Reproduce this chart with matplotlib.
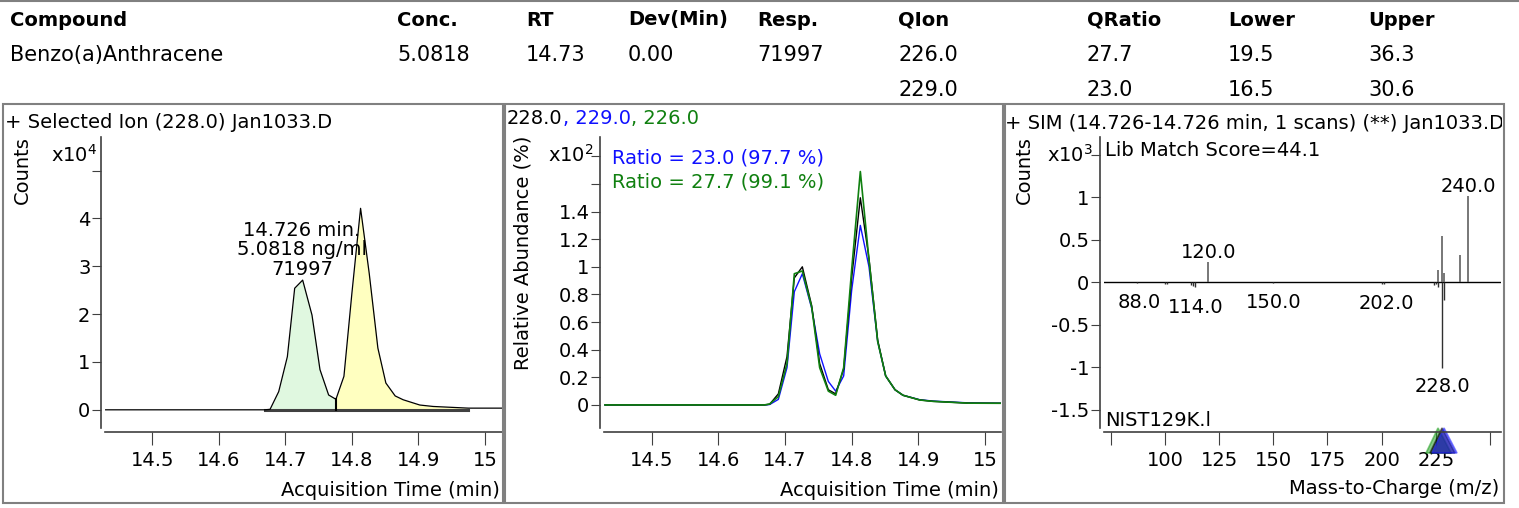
import matplotlib
matplotlib.use("Agg")
import matplotlib.pyplot as plt
from matplotlib.patches import Rectangle
from matplotlib.ticker import FixedLocator, FixedFormatter

plt.rcParams['font.family'] = ['DejaVu Sans']

W, H = 1519, 508

# 表格数据
headers = ["Compound", "Conc.", "RT", "Dev(Min)", "Resp.", "QIon", "QRatio", "Lower", "Upper"]
row1 = ["Benzo(a)Anthracene", "5.0818", "14.73", "0.00", "71997", "226.0", "27.7", "19.5", "36.3"]
row2 = ["", "", "", "", "", "229.0", "23.0", "16.5", "30.6"]

# 色谱数据 (时间, min)
rt = [14.43, 14.669, 14.677, 14.690, 14.703, 14.714, 14.726, 14.740, 14.752, 14.765, 14.776,
      14.788, 14.800, 14.813, 14.826, 14.839, 14.851, 14.865, 14.877, 14.902, 14.922, 14.975, 15.025]
# 228.0 离子强度 (x10^4)
counts_228 = [0.0, 0.0, 0.01, 0.38, 1.11, 2.54, 2.71, 1.98, 0.84, 0.31, 0.22,
              0.70, 2.44, 4.21, 2.85, 1.29, 0.56, 0.29, 0.21, 0.10, 0.07, 0.035, 0.035]
# 相对丰度 (x10^2 %)
rel_228 = [0, 0, 0.005, 0.08, 0.35, 0.92, 1.00, 0.72, 0.30, 0.11, 0.08,
           0.26, 0.92, 1.50, 1.06, 0.47, 0.21, 0.11, 0.07, 0.036, 0.026, 0.013, 0.012]
rel_229 = [0, 0, 0.003, 0.04, 0.27, 0.82, 0.95, 0.70, 0.37, 0.17, 0.10,
           0.21, 0.83, 1.30, 1.00, 0.46, 0.21, 0.11, 0.07, 0.038, 0.028, 0.015, 0.012]
rel_226 = [0, 0, 0.007, 0.06, 0.30, 0.95, 0.97, 0.71, 0.27, 0.10, 0.07,
           0.27, 0.98, 1.69, 1.05, 0.46, 0.21, 0.11, 0.07, 0.036, 0.026, 0.013, 0.012]

# 积分区间
peak1_start, split_time, peak2_end = 14.669, 14.776, 14.975

# 质谱数据 (x10^3)
spec_mz = [120, 226, 228, 229, 236, 240]
spec_int = [0.24, 0.14, 0.54, 0.11, 0.32, 1.01]
lib_mz = [87, 100, 101, 112, 113, 114, 150, 200, 201, 224, 225, 226, 228, 229]
lib_int = [-0.01, -0.02, -0.015, -0.03, -0.04, -0.05, -0.01, -0.015, -0.02,
           -0.03, -0.02, -0.05, -1.01, -0.21]
up_labels = [(120, 0.24, "120.0"), (240, 1.01, "240.0")]
down_labels = [(88, -0.13, "88.0"), (114, -0.185, "114.0"), (150, -0.13, "150.0"),
               (202, -0.14, "202.0"), (228, -1.11, "228.0")]
qion_mz = [226, 228, 229]
qion_colors = ["#22a022", "#000000", "#2222ff"]

FS = 14


def fx(x):
    return x / W


def fy(y):
    return 1 - y / H


fig = plt.figure(figsize=(W / 100, H / 100), dpi=100)

# ---- 表格 ----
col_x = [10, 397, 526, 628, 757, 898, 1087, 1228, 1368]
for x, h, a, b in zip(col_x, headers, row1, row2):
    fig.text(fx(x), fy(20), h, fontsize=14, fontweight='bold', va='center', ha='left')
    fig.text(fx(x), fy(55), a, fontsize=15, va='center', ha='left')
    fig.text(fx(x), fy(90), b, fontsize=15, va='center', ha='left')
fig.add_artist(plt.Line2D([0, 1], [fy(1), fy(1)], color='#808080', lw=1.5))

# ---- 面板边框 ----
for x0, x1 in [(3, 503), (505, 1003), (1005, 1504)]:
    fig.add_artist(Rectangle((fx(x0), fy(503)), fx(x1 - x0), (503 - 104) / H,
                             fill=False, edgecolor='#808080', lw=1.5, transform=fig.transFigure))


def make_axes(x0):
    ax = fig.add_axes([fx(x0), fy(428), fx(397), 291 / H])
    for s in ['top', 'right']:
        ax.spines[s].set_visible(False)
    ax.spines['left'].set_position(('outward', 3))
    ax.spines['bottom'].set_position(('outward', 3))
    for s in ['left', 'bottom']:
        ax.spines[s].set_color('#404040')
        ax.spines[s].set_linewidth(1.2)
    ax.tick_params(axis='y', direction='out', length=6.5, width=0.8, labelsize=FS, pad=1, color='#404040')
    ax.tick_params(axis='x', direction='out', length=9.5, width=0.8, labelsize=FS, pad=4, color='#404040')
    ax.set_facecolor('none')
    return ax


# ---- 面板 1: 色谱图 ----
ax1 = make_axes(105)
ax1.set_xlim(14.429, 15.0255)
ax1.set_ylim(-0.38, 5.7)
ax1.fill_between(rt, counts_228, 0, where=[peak1_start <= t <= split_time for t in rt],
                 color='#e0f8e0', interpolate=True, lw=0)
ax1.fill_between(rt, counts_228, 0, where=[split_time <= t <= peak2_end for t in rt],
                 color='#ffffc0', interpolate=True, lw=0)
ax1.plot([peak1_start, peak2_end], [0, 0], color='#404040', lw=2.2)
ax1.plot([split_time, split_time], [0, counts_228[rt.index(split_time)]], color='black', lw=1.5)
ax1.plot(rt, counts_228, color='black', lw=0.9)
ax1.xaxis.set_major_locator(FixedLocator([14.5, 14.6, 14.7, 14.8, 14.9, 15.0]))
ax1.xaxis.set_major_formatter(FixedFormatter(["14.5", "14.6", "14.7", "14.8", "14.9", "15"]))
ax1.yaxis.set_major_locator(FixedLocator([0, 1, 2, 3, 4, 5]))
ax1.yaxis.set_major_formatter(FixedFormatter(["0", "1", "2", "3", "4", ""]))
ax1.text(14.725, 3.34, "14.726 min.\n5.0818 ng/ml\n71997", fontsize=FS, ha='center', va='center',
         linespacing=1.05)
fig.text(fx(5), fy(123), "+ Selected Ion (228.0) Jan1033.D", fontsize=FS, va='center')
fig.text(fx(22), fy(136), "Counts", fontsize=FS, rotation=90, ha='center', va='top')
fig.text(fx(97), fy(155), r"x10$^4$", fontsize=FS, ha='right', va='center')
fig.text(fx(500), fy(490), "Acquisition Time (min)", fontsize=FS, ha='right', va='center')

# ---- 面板 2: 离子比 ----
ax2 = make_axes(604)
ax2.set_xlim(14.4285, 15.024)
ax2.set_ylim(-0.167, 1.94)
ax2.plot(rt, rel_229, color='#1010ff', lw=1.0)
ax2.plot(rt, rel_228, color='black', lw=1.0)
ax2.plot(rt, rel_226, color='#108010', lw=1.2)
ax2.xaxis.set_major_locator(FixedLocator([14.5, 14.6, 14.7, 14.8, 14.9, 15.0]))
ax2.xaxis.set_major_formatter(FixedFormatter(["14.5", "14.6", "14.7", "14.8", "14.9", "15"]))
ax2.yaxis.set_major_locator(FixedLocator([0, 0.2, 0.4, 0.6, 0.8, 1.0, 1.2, 1.4, 1.6, 1.8]))
ax2.yaxis.set_major_formatter(FixedFormatter(["0", "0.2", "0.4", "0.6", "0.8", "1", "1.2", "1.4", "", ""]))
ax2.text(0.02, 0.928, "Ratio = 23.0 (97.7 %)", transform=ax2.transAxes, color='#1010ff', fontsize=FS, va='center')
ax2.text(0.02, 0.845, "Ratio = 27.7 (99.1 %)", transform=ax2.transAxes, color='#108010', fontsize=FS, va='center')
t1 = fig.text(fx(507), fy(118), "228.0", fontsize=FS, va='center', color='black')
t2 = ax2.annotate(", 229.0", xycoords=t1, xy=(1, 0), va='bottom', fontsize=FS, color='#1010ff',
                  annotation_clip=False)
ax2.annotate(", 226.0", xycoords=t2, xy=(1, 0), va='bottom', fontsize=FS, color='#108010',
             annotation_clip=False)
fig.text(fx(523), fy(136), "Relative Abundance (%)", fontsize=FS, rotation=90, ha='center', va='top')
fig.text(fx(594), fy(155), r"x10$^2$", fontsize=FS, ha='right', va='center')
fig.text(fx(999), fy(490), "Acquisition Time (min)", fontsize=FS, ha='right', va='center')

# ---- 面板 3: 质谱 ----
ax3 = make_axes(1104)
ax3.set_xlim(71.9, 255.1)
ax3.set_ylim(-1.714, 1.71)
ax3.axhline(0, color='black', lw=1.0)
ax3.vlines(spec_mz, 0, spec_int, color='#606060', lw=1.2)
ax3.vlines(lib_mz, 0, lib_int, color='#303030', lw=1.0)
for m, v, s in up_labels:
    ax3.text(m, v, s, fontsize=FS, ha='center', va='bottom')
for m, v, s in down_labels:
    ax3.text(m, v, s, fontsize=FS, ha='center', va='top')
ax3.xaxis.set_major_locator(FixedLocator([75, 100, 125, 150, 175, 200, 225, 250]))
ax3.xaxis.set_major_formatter(FixedFormatter(["", "100", "125", "150", "175", "200", "225", ""]))
ax3.yaxis.set_major_locator(FixedLocator([-1.5, -1, -0.5, 0, 0.5, 1, 1.5]))
ax3.yaxis.set_major_formatter(FixedFormatter(["-1.5", "-1", "-0.5", "0", "0.5", "1", ""]))
for m, c in zip(qion_mz, qion_colors):
    ax3.plot([m], [-0.04], transform=ax3.get_xaxis_transform(), marker='^', ms=18,
             color=c, alpha=0.55, clip_on=False, mec=c, mew=1.2)
ax3.text(0.003, 0.955, "Lib Match Score=44.1", transform=ax3.transAxes, fontsize=FS, va='center')
ax3.text(0.003, 0.027, "NIST129K.l", transform=ax3.transAxes, fontsize=FS, va='center')
frame3 = fig.add_axes([fx(1005), fy(503), fx(497), 399 / H])
frame3.axis('off')
frame3.set_facecolor('none')
frame3.text(0.0, 0.952, "+ SIM (14.726-14.726 min, 1 scans) (**) Jan1033.D", transform=frame3.transAxes,
            fontsize=FS, va='center', clip_on=True)
fig.text(fx(1024), fy(136), "Counts", fontsize=FS, rotation=90, ha='center', va='top')
fig.text(fx(1093), fy(155), r"x10$^3$", fontsize=FS, ha='right', va='center')
fig.text(fx(1499), fy(488), "Mass-to-Charge (m/z)", fontsize=FS, ha='right', va='center')

fig.savefig("out.png", dpi=100)
